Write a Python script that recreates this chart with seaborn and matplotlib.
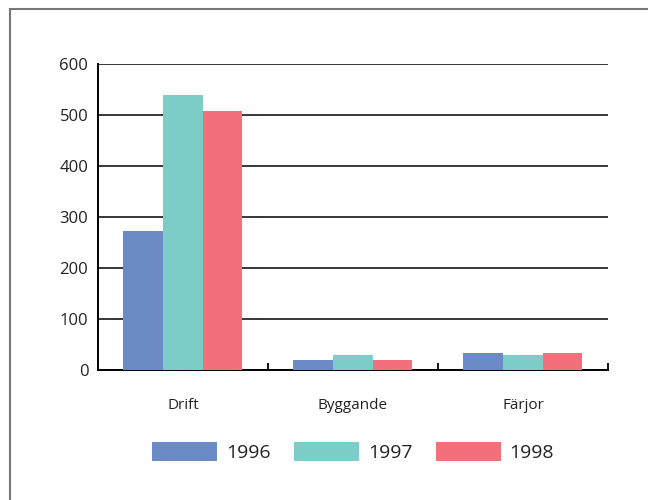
import pandas as pd
import matplotlib
matplotlib.use("Agg")
import matplotlib.pyplot as plt
import seaborn as sns
from matplotlib.patches import Rectangle

# Chart data
categories = ["Drift", "Byggande", "Färjor"]
years = ["1996", "1997", "1998"]
values_1996 = [272, 20, 34]
values_1997 = [539, 30, 30]
values_1998 = [508, 20, 34]
colors = ["#6C8AC6", "#7CCDC7", "#F2707A"]

df = pd.DataFrame({
    "Kategori": categories * 3,
    "År": [years[0]] * 3 + [years[1]] * 3 + [years[2]] * 3,
    "Värde": values_1996 + values_1997 + values_1998,
})

sns.set_style("white")
plt.rcParams["font.family"] = ["Open Sans", "DejaVu Sans"]

fig = plt.figure(figsize=(6.48, 5), dpi=100)
ax = fig.add_axes([0.1512, 0.26, 0.787, 0.612])

sns.barplot(data=df, x="Kategori", y="Värde", hue="År", palette=colors,
            width=0.7, gap=0, saturation=1, linewidth=0, ax=ax, legend=True, zorder=3)

ax.set_ylim(0, 600)
ax.set_xlim(-0.5, 2.5)
ax.set_yticks(range(0, 601, 100))
ax.set_xlabel("")
ax.set_ylabel("")
ax.yaxis.grid(True, color="black", linewidth=1.1)
ax.set_axisbelow(True)

for side in ["top", "right"]:
    ax.spines[side].set_visible(False)
for side in ["left", "bottom"]:
    ax.spines[side].set_color("black")
    ax.spines[side].set_linewidth(1.4)

ax.tick_params(axis="y", length=0, pad=7, labelsize=12, colors="#222222")
ax.tick_params(axis="x", which="major", length=0, pad=20, labelsize=11, colors="#222222")
ax.set_xticks([0.5, 1.5, 2.5], minor=True)
ax.tick_params(axis="x", which="minor", bottom=True, direction="in", length=5,
               width=1.3, color="black")

handles, labels = ax.get_legend_handles_labels()
ax.get_legend().remove()
fig.legend(handles, labels, loc="center", bbox_to_anchor=(0.545, 0.096), ncol=3,
           frameon=False, fontsize=14, handlelength=3.35, handleheight=1.1,
           handletextpad=0.45, columnspacing=1.2, labelcolor="#222222")

# outer frame of the original page
fig.patches.append(Rectangle((10 / 648, -0.1), 1.2, 1.1 - 9 / 500, transform=fig.transFigure,
                             fill=False, edgecolor="#777777", linewidth=1.5, clip_on=False))

fig.savefig("out.png", dpi=100)
